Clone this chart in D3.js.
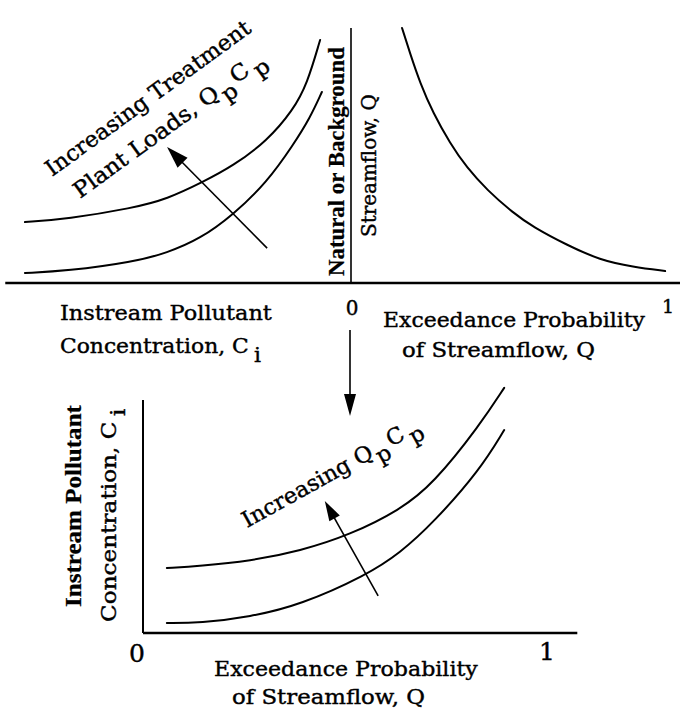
<!DOCTYPE html>
<html><head><meta charset="utf-8">
<script src="https://cdn.jsdelivr.net/npm/d3@7"></script>
<style>html,body{margin:0;padding:0;background:#fff;} svg{display:block;}</style>
</head><body>
<script>
// ---------- data (normalised 0..1 units) ----------
// Top right: natural streamflow vs exceedance probability
const flowExceed = [0.161,0.186,0.218,0.259,0.312,0.366,0.429,0.511,0.574,0.681,0.785,0.890,0.991];
const flowQ      = [1.000,0.902,0.784,0.667,0.549,0.451,0.365,0.275,0.220,0.149,0.090,0.063,0.047];
// Top left: instream concentration vs streamflow, higher and lower plant loads
const loadHighConc = [0.929,0.809,0.621,0.524,0.422,0.336,0.239,0.165,0.125,0.088];
const loadHighQ    = [0.239,0.251,0.294,0.329,0.396,0.459,0.557,0.678,0.780,0.953];
const loadLowConc  = [0.929,0.809,0.621,0.524,0.430,0.336,0.239,0.165,0.117,0.083];
const loadLowQ     = [0.039,0.047,0.082,0.118,0.173,0.267,0.396,0.541,0.647,0.749];
const loadArrowConc = [0.239,0.524];
const loadArrowQ    = [0.137,0.533];
// Bottom: concentration vs exceedance probability
const ciHighExceed = [0.059,0.141,0.265,0.389,0.512,0.636,0.718,0.834,0.894];
const ciHigh       = [0.279,0.288,0.309,0.352,0.421,0.528,0.639,0.893,1.052];
const ciLowExceed  = [0.059,0.141,0.265,0.389,0.554,0.636,0.718,0.834,0.894];
const ciLow        = [0.043,0.043,0.069,0.120,0.249,0.343,0.472,0.700,0.871];
const ciArrowExceed = [0.582,0.450];
const ciArrowConc   = [0.159,0.567];
const tickLabels = ["0","1"];

// ---------- layout ----------
const W = 680, H = 711;
const SERIF = "'DejaVu Serif','Liberation Serif',serif";
const BOLD = "'Liberation Serif','DejaVu Serif',serif";
const svg = d3.select("body").append("svg").attr("width", W).attr("height", H);

// top panel scales
const yQ = d3.scaleLinear().domain([0,1]).range([283,28]);
const xP = d3.scaleLinear().domain([0,1]).range([351,668]);
const xC = d3.scaleLinear().domain([0,1]).range([351,0]);
// bottom panel scales
const xP2 = d3.scaleLinear().domain([0,1]).range([143,547]);
const yC2 = d3.scaleLinear().domain([0,1]).range([633,400]);

const line = d3.line().curve(d3.curveBasis);

function path(pts, w) {
  svg.append("path").attr("d", line(pts)).attr("fill","none")
    .attr("stroke","#000").attr("stroke-width", w || 2).attr("stroke-linecap","round");
}
function seg(x1,y1,x2,y2,w){
  svg.append("line").attr("x1",x1).attr("y1",y1).attr("x2",x2).attr("y2",y2)
    .attr("stroke","#000").attr("stroke-width",w);
}
function arrow(x1,y1,x2,y2,len,hw,w){
  const dx=x2-x1, dy=y2-y1, L=Math.hypot(dx,dy), ux=dx/L, uy=dy/L;
  const bx=x2-ux*len, by=y2-uy*len;
  seg(x1,y1,bx+ux*2,by+uy*2,w||1.6);
  svg.append("polygon").attr("points",
    [[x2,y2],[bx-uy*hw,by+ux*hw],[bx+uy*hw,by-ux*hw]].map(p=>p.join(",")).join(" "))
    .attr("fill","#000");
}
function label({x,y,angle=0,parts,size=21,weight="normal",width=null,anchor="start",font}){
  const g = svg.append("g");
  const t = g.append("text").attr("font-family",font || (weight==="bold"?BOLD:SERIF))
    .attr("font-size",size).attr("font-weight",weight).attr("fill","#000")
    .attr("stroke","#000").attr("stroke-width",weight==="bold"?0.25:0.4)
    .attr("text-anchor",anchor);
  parts.forEach(p=>{
    const ts=t.append("tspan").text(p.t);
    if(p.dy) ts.attr("dy",p.dy);
    if(p.dx) ts.attr("dx",p.dx);
  });
  let sx = 1;
  if (width) { sx = width / t.node().getComputedTextLength(); }
  g.attr("transform",`translate(${x},${y}) rotate(${angle}) scale(${sx},1)`);
}

// ---------- top panel ----------
seg(xC(0.985), yQ(0), W, yQ(0), 2.4);        // horizontal axis
seg(xP(0), yQ(0), xP(0), yQ(1), 1.6);         // vertical axis

path(flowExceed.map((p,i)=>[xP(p), yQ(flowQ[i])]));
path(loadHighConc.map((c,i)=>[xC(c), yQ(loadHighQ[i])]));
path(loadLowConc.map((c,i)=>[xC(c), yQ(loadLowQ[i])]));
arrow(xC(loadArrowConc[0]), yQ(loadArrowQ[0]), xC(loadArrowConc[1]), yQ(loadArrowQ[1]), 22, 7, 1.6);

label({x:52, y:177, angle:-36, parts:[{t:"Increasing Treatment"}], size:22, width:248});
label({x:80, y:199, angle:-36, parts:[{t:"Plant Loads, Q"},{t:"p",dy:9,dx:2},{t:"C",dy:-10,dx:3},{t:"p",dy:9,dx:4}], size:22, width:222});

label({x:344, y:276, angle:-90, parts:[{t:"Natural or Background"}], weight:"bold", size:24, width:229});
label({x:376, y:237, angle:-90, parts:[{t:"Streamflow, Q"}], size:20, width:143});

label({x:60, y:320, parts:[{t:"Instream Pollutant"}], width:212});
label({x:60, y:353, parts:[{t:"Concentration, C"},{t:"i",dy:9,dx:5}], width:196});
label({x:xP(0)+1, y:315, parts:[{t:tickLabels[0]}], anchor:"middle", size:20});
label({x:xP(1), y:313, parts:[{t:tickLabels[1]}], anchor:"middle", size:19});
label({x:383, y:327, parts:[{t:"Exceedance Probability"}], width:262});
label({x:402, y:357, parts:[{t:"of Streamflow, Q"}], width:193});

// connecting arrow
arrow(xP(0)-1, 330, xP(0)-1, 416, 22, 6, 1.6);

// ---------- bottom panel ----------
seg(xP2(0), yC2(0), xP2(1.075), yC2(0), 2.4);
seg(xP2(0), yC2(0), xP2(0), yC2(1), 2);

path(ciHighExceed.map((p,i)=>[xP2(p), yC2(ciHigh[i])]));
path(ciLowExceed.map((p,i)=>[xP2(p), yC2(ciLow[i])]));
arrow(xP2(ciArrowExceed[0]), yC2(ciArrowConc[0]), xP2(ciArrowExceed[1]), yC2(ciArrowConc[1]), 20, 6, 1.6);

label({x:247, y:528, angle:-29, parts:[{t:"Increasing Q"},{t:"p",dy:9,dx:2},{t:"C",dy:-10,dx:3},{t:"p",dy:9,dx:4}], size:22, width:192});

label({x:81, y:607, angle:-90, parts:[{t:"Instream Pollutant"}], weight:"bold", size:24, width:202});
label({x:116, y:622, angle:-90, parts:[{t:"Concentration, C"},{t:"i",dy:9,dx:5}], width:208});

label({x:xP2(0)-6, y:662, parts:[{t:tickLabels[0]}], anchor:"middle", size:25});
label({x:xP2(1), y:660, parts:[{t:tickLabels[1]}], anchor:"middle", size:25});
label({x:214, y:676, parts:[{t:"Exceedance Probability"}], width:264});
label({x:232, y:704, parts:[{t:"of Streamflow, Q"}], width:193});
</script>
</body></html>
